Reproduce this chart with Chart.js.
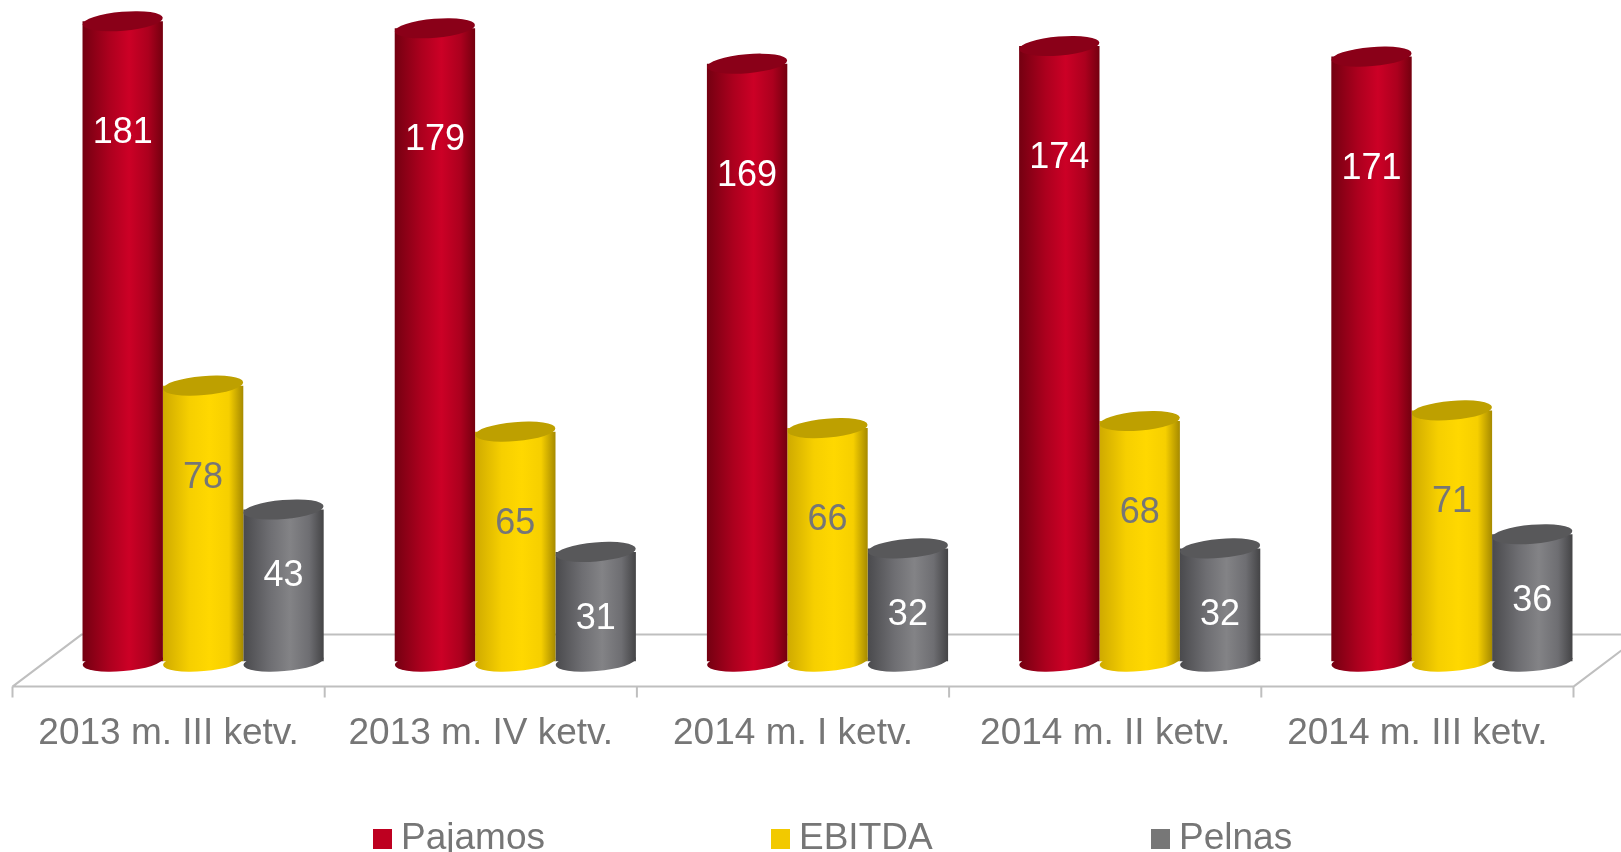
<!DOCTYPE html>
<html>
<head>
<meta charset="utf-8">
<script src="https://cdn.jsdelivr.net/npm/chart.js@4.4.1/dist/chart.umd.min.js"></script>
<style>
  html, body { margin: 0; padding: 0; background: #fff; overflow: hidden; }
  #wrap { width: 1621px; height: 852px; position: relative; }
</style>
</head>
<body>
<div id="wrap"><canvas id="c"></canvas></div>
<script>
// ===== 数据 =====
const LABELS  = ['2013 m. III ketv.', '2013 m. IV ketv.', '2014 m. I ketv.', '2014 m. II ketv.', '2014 m. III ketv.'];
const PAJAMOS = [181, 179, 169, 174, 171];
const EBITDA  = [78, 65, 66, 68, 71];
const PELNAS  = [43, 31, 32, 32, 36];
const NAMES   = ['Pajamos', 'EBITDA', 'Pelnas'];

// ===== 样式 =====
const FONT = '"Liberation Sans", Arial, sans-serif';
const CAT_PCT = 0.7725;
const DEPTH_X = 34.5, DEPTH_UP = 27, DEPTH_DOWN = 25;   // 3D 地板半深度
const CAP_RY = 9.5, CAP_ROT = -0.085;

const PAL = [
  { l: '#740011', m: '#ac001e', h: '#cc0026', r: '#74000f', cap: '#8a0018', key: '#be0020', txt: '#ffffff', off: 112 },
  { l: '#cfaa00', m: '#f6cf00', h: '#ffd800', r: '#a68a00', cap: '#bea000', key: '#f2c900', txt: '#767676', off: 92 },
  { l: '#4a4a4d', m: '#6e6e72', h: '#838386', r: '#444446', cap: '#58585a', key: '#777777', txt: '#ffffff', off: 67 },
];
const LEGEND_X = [373, 771, 1151];

function cylGrad(ctx, x0, x1, p) {
  const g = ctx.createLinearGradient(x0, 0, x1, 0);
  g.addColorStop(0, p.l);
  g.addColorStop(0.33, p.m);
  g.addColorStop(0.58, p.h);
  g.addColorStop(0.82, p.m);
  g.addColorStop(1, p.r);
  return g;
}

// 柱体渐变（按刻度计算位置）
function bodyFill(c, i) {
  const chart = c.chart, xs = chart.scales.x;
  if (!xs || c.type !== 'data' || !chart.chartArea) return PAL[i].h;
  const bw = xs.width / LABELS.length * CAT_PCT / 3;
  const cx = xs.getPixelForValue(c.dataIndex) + (i - 1) * bw;
  return cylGrad(chart.ctx, cx - bw / 2, cx + bw / 2, PAL[i]);
}

// ===== 3D 地板 + 柱底椭圆 =====
const floorPlugin = {
  id: 'floor3d',
  beforeDatasetsDraw(chart) {
    const { ctx, chartArea, scales } = chart;
    const xs = scales.x;
    const cw = xs.width / LABELS.length;
    const fy = chartArea.bottom + DEPTH_DOWN, by = chartArea.bottom - DEPTH_UP;
    const L = chartArea.left, R = chartArea.right;
    ctx.save();
    ctx.strokeStyle = '#bfbfbf';
    ctx.lineWidth = 2;
    ctx.beginPath();
    ctx.moveTo(L - DEPTH_X, fy); ctx.lineTo(R - DEPTH_X, fy);
    ctx.moveTo(L - DEPTH_X, fy); ctx.lineTo(L + DEPTH_X, by);
    ctx.lineTo(R + DEPTH_X, by);
    ctx.moveTo(R - DEPTH_X, fy); ctx.lineTo(R + DEPTH_X, by);
    for (let i = 0; i <= LABELS.length; i++) {
      const x = L + i * cw - DEPTH_X;
      ctx.moveTo(x, fy); ctx.lineTo(x, fy + 11);
    }
    ctx.stroke();

    // 柱底
    chart.data.datasets.forEach((ds, di) => {
      chart.getDatasetMeta(di).data.forEach(el => {
        const w = el.width;
        ctx.fillStyle = cylGrad(ctx, el.x - w / 2, el.x + w / 2, PAL[di]);
        ctx.beginPath();
        ctx.ellipse(el.x, el.base, w / 2, CAP_RY, CAP_ROT, 0, Math.PI * 2);
        ctx.fill();
      });
    });
    ctx.restore();
  },
  afterDatasetsDraw(chart) {
    const { ctx } = chart;
    ctx.save();
    // 顶盖
    chart.data.datasets.forEach((ds, di) => {
      chart.getDatasetMeta(di).data.forEach(el => {
        ctx.fillStyle = PAL[di].cap;
        ctx.beginPath();
        ctx.ellipse(el.x, el.y, el.width / 2, CAP_RY, CAP_ROT, 0, Math.PI * 2);
        ctx.fill();
      });
    });
    // 数值标签
    ctx.font = `36px ${FONT}`;
    ctx.textAlign = 'center';
    ctx.textBaseline = 'middle';
    chart.data.datasets.forEach((ds, di) => {
      chart.getDatasetMeta(di).data.forEach((el, j) => {
        ctx.fillStyle = PAL[di].txt;
        ctx.fillText(String(ds.data[j]), el.x, el.y + PAL[di].off);
      });
    });
    ctx.restore();
  },
  afterDraw(chart) {
    const { ctx } = chart;
    ctx.save();
    ctx.font = `37px ${FONT}`;
    ctx.textBaseline = 'middle';
    ctx.textAlign = 'left';
    NAMES.forEach((n, i) => {
      const x = LEGEND_X[i], y = 839;
      ctx.fillStyle = PAL[i].key;
      ctx.fillRect(x, y - 10, 19, 20);
      ctx.fillStyle = '#767676';
      ctx.fillText(n, x + 28, y);
    });
    ctx.restore();
  },
};

new Chart(document.getElementById('c'), {
  type: 'bar',
  plugins: [floorPlugin],
  data: {
    labels: LABELS,
    datasets: [
      { label: NAMES[0], data: PAJAMOS, backgroundColor: c => bodyFill(c, 0) },
      { label: NAMES[1], data: EBITDA,  backgroundColor: c => bodyFill(c, 1) },
      { label: NAMES[2], data: PELNAS,  backgroundColor: c => bodyFill(c, 2) },
    ],
  },
  options: {
    responsive: true,
    maintainAspectRatio: false,
    animation: false,
    layout: { padding: { top: 0, left: 47, right: 13, bottom: 96 } },
    datasets: { bar: { categoryPercentage: CAT_PCT, barPercentage: 1, borderWidth: 0 } },
    plugins: { legend: { display: false }, tooltip: { enabled: false } },
    scales: {
      x: {
        grid: { display: true, drawOnChartArea: false, drawTicks: true, tickLength: 50, color: 'rgba(0,0,0,0)' },
        border: { display: false },
        ticks: {
          color: '#767676', font: { size: 37, family: FONT },
          padding: 0, labelOffset: -DEPTH_X, maxRotation: 0, autoSkip: false,
        },
      },
      y: { display: false, min: 0, max: 187 },
    },
  },
});
</script>
</body>
</html>
